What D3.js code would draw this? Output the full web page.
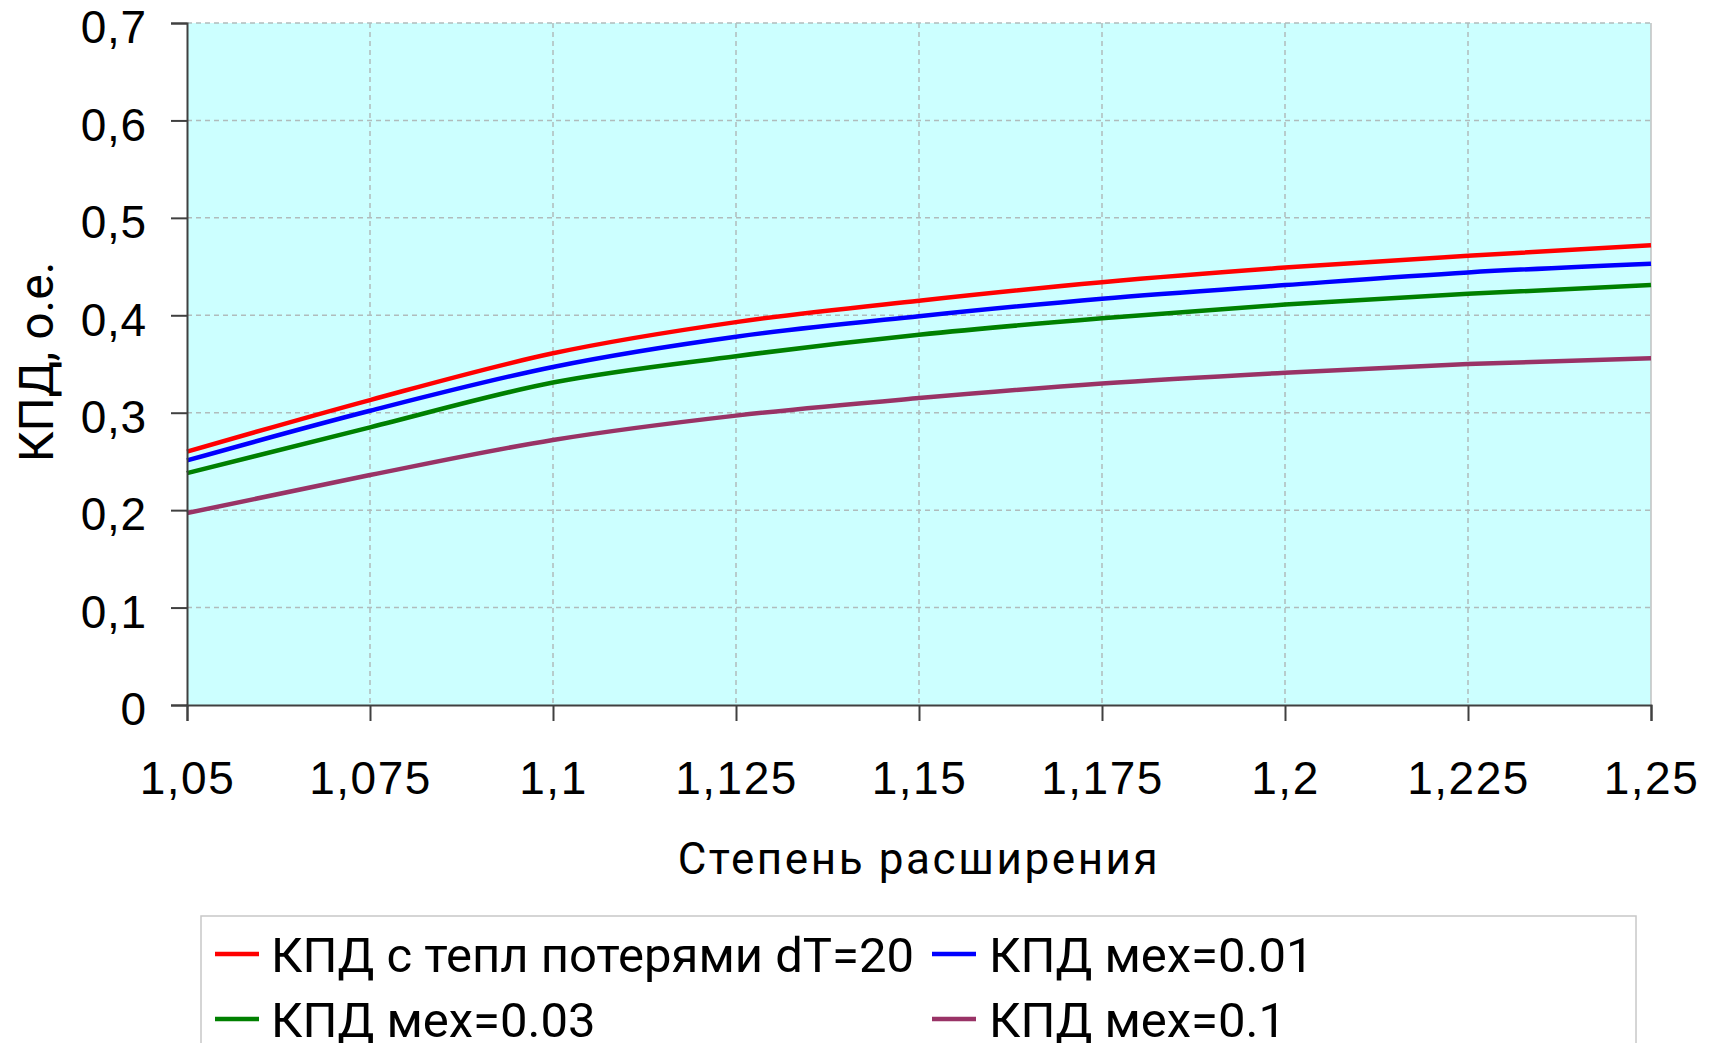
<!DOCTYPE html>
<html>
<head>
<meta charset="utf-8">
<script src="https://cdn.jsdelivr.net/npm/d3@7/dist/d3.min.js"></script>
<style>
  html, body { margin: 0; padding: 0; background: #ffffff; }
  svg { display: block; font-family: Roboto, "Noto Sans", sans-serif; }
</style>
</head>
<body>
<svg id="chart" width="1714" height="1043"></svg>
<script>
// Expansion ratio (x) and efficiency values for each series
const ratios = [1.05, 1.075, 1.1, 1.125, 1.15, 1.175, 1.2, 1.225, 1.25];
const effHeatLoss = [0.260, 0.313, 0.361, 0.393, 0.415, 0.434, 0.449, 0.461, 0.472];
const effMech001  = [0.251, 0.302, 0.347, 0.378, 0.399, 0.417, 0.431, 0.444, 0.453];
const effMech003  = [0.238, 0.285, 0.331, 0.358, 0.380, 0.397, 0.411, 0.422, 0.431];
const effMech01   = [0.197, 0.236, 0.272, 0.297, 0.315, 0.330, 0.341, 0.350, 0.356];

const seriesNames = ["КПД с тепл потерями dT=20", "КПД мех=0.01", "КПД мех=0.03", "КПД мех=0.1"];
const seriesColors = ["#ff0000", "#0000ff", "#008000", "#993366"];
const seriesValues = [effHeatLoss, effMech001, effMech003, effMech01];

const xTicks = [1.05, 1.075, 1.1, 1.125, 1.15, 1.175, 1.2, 1.225, 1.25];
const yTicks = [0, 0.1, 0.2, 0.3, 0.4, 0.5, 0.6, 0.7];

const xTitle = "Степень расширения";
const yTitle = "КПД, о.е.";

const svg = d3.select("#chart");
const plot = { left: 187, right: 1651, top: 23, bottom: 705 };

const x = d3.scaleLinear().domain([1.05, 1.25]).range([plot.left, plot.right]);
const y = d3.scaleLinear().domain([0, 0.7]).range([plot.bottom, plot.top]);

const commaFmt = v => String(+v.toFixed(3)).replace(".", ",");

// plot background
svg.append("rect")
  .attr("x", plot.left).attr("y", plot.top)
  .attr("width", plot.right - plot.left).attr("height", plot.bottom - plot.top)
  .attr("fill", "#ccffff");

// dashed grid
const grid = svg.append("g");
grid.selectAll("line.h").data(yTicks.filter(d => d > 0)).enter().append("line")
  .attr("x1", plot.left).attr("x2", plot.right)
  .attr("y1", d => y(d)).attr("y2", d => y(d))
  .attr("stroke", "#b0bcbc").attr("stroke-width", 1.5).attr("stroke-dasharray", "5,4");
grid.selectAll("line.v").data(xTicks.filter(d => d > 1.05 && d < 1.25)).enter().append("line")
  .attr("x1", d => x(d)).attr("x2", d => x(d))
  .attr("y1", plot.top).attr("y2", plot.bottom)
  .attr("stroke", "#b0bcbc").attr("stroke-width", 1.5).attr("stroke-dasharray", "5,4");

// right frame edge
svg.append("line")
  .attr("x1", plot.right).attr("x2", plot.right)
  .attr("y1", plot.top).attr("y2", plot.bottom)
  .attr("stroke", "#c0c0c0").attr("stroke-width", 1.5);

// series lines
const line = d3.line()
  .x((d, i) => x(ratios[i]))
  .y(d => y(d))
  .curve(d3.curveMonotoneX);

svg.append("g").selectAll("path").data(seriesValues).enter().append("path")
  .attr("d", d => line(d))
  .attr("fill", "none")
  .attr("stroke", (d, i) => seriesColors[i])
  .attr("stroke-width", 4.5)
  .attr("stroke-linejoin", "round");

// axes
const yAxis = svg.append("g")
  .attr("transform", `translate(${plot.left},0)`)
  .call(d3.axisLeft(y).tickValues(yTicks).tickSize(16).tickPadding(24).tickFormat(commaFmt));
const xAxis = svg.append("g")
  .attr("transform", `translate(0,${plot.bottom})`)
  .call(d3.axisBottom(x).tickValues(xTicks).tickSize(16).tickPadding(40).tickFormat(commaFmt));

[yAxis, xAxis].forEach(a => {
  a.select(".domain").attr("stroke", "#404040").attr("stroke-width", 2);
  a.selectAll(".tick line").attr("stroke", "#404040").attr("stroke-width", 2);
  a.selectAll(".tick text").attr("fill", "#000").style("font-size", "46px");
});
yAxis.selectAll(".tick text").attr("dy", "0.43em").style("letter-spacing", "0.8px");
xAxis.selectAll(".tick text").attr("dy", "0.71em").style("letter-spacing", "1.5px");

// axis titles
svg.append("text")
  .attr("x", (plot.left + plot.right) / 2).attr("y", 874)
  .attr("text-anchor", "middle")
  .style("font-size", "44px").style("letter-spacing", "2.6px")
  .text(xTitle);

svg.append("text")
  .attr("transform", "translate(53,362) rotate(-90)")
  .attr("text-anchor", "middle")
  .style("font-size", "48px")
  .text(yTitle);

// legend
const legend = svg.append("g");
legend.append("rect")
  .attr("x", 201).attr("y", 916).attr("width", 1435).attr("height", 160)
  .attr("fill", "#fff").attr("stroke", "#c8c8c8").attr("stroke-width", 1.5);

const legendPos = [
  { sx: 215, tx: 271, cy: 954 },
  { sx: 932, tx: 989, cy: 954 },
  { sx: 215, tx: 271, cy: 1019 },
  { sx: 932, tx: 989, cy: 1019 }
];
const items = legend.selectAll("g.item").data(seriesNames).enter().append("g");
items.append("line")
  .attr("x1", (d, i) => legendPos[i].sx).attr("x2", (d, i) => legendPos[i].sx + 44)
  .attr("y1", (d, i) => legendPos[i].cy).attr("y2", (d, i) => legendPos[i].cy)
  .attr("stroke", (d, i) => seriesColors[i]).attr("stroke-width", 4.5);
items.append("text")
  .attr("x", (d, i) => legendPos[i].tx).attr("y", (d, i) => legendPos[i].cy)
  .attr("dy", "0.36em")
  .style("font-size", "49px")
  .text(d => d);
</script>
</body>
</html>
